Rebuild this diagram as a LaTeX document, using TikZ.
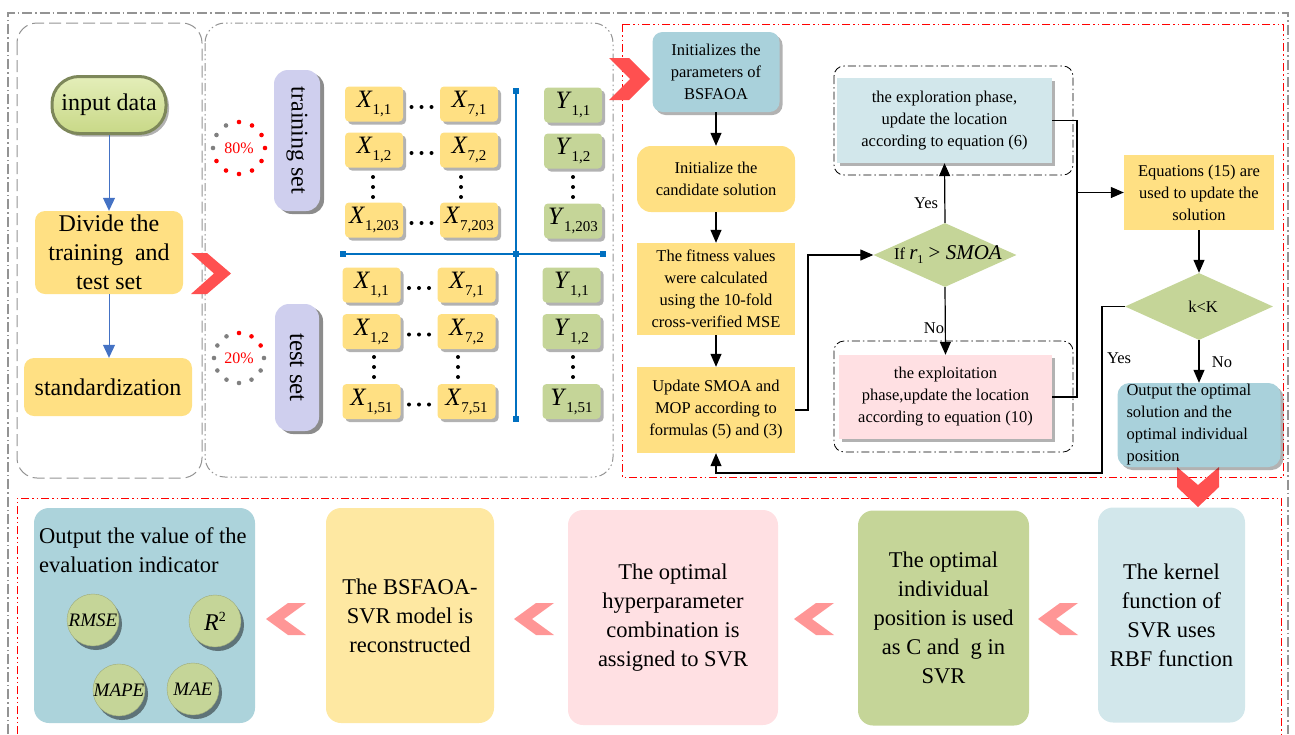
\documentclass[tikz,border=0pt]{standalone}
\usepackage{fontspec}
\setmainfont{Liberation Serif}
\usetikzlibrary{shapes.geometric,shadows,arrows.meta,calc}
\definecolor{cyel}{RGB}{255,224,131}
\definecolor{cyelb}{RGB}{254,232,162}
\definecolor{cblue}{RGB}{169,209,219}
\definecolor{cbluebox}{RGB}{172,211,219}
\definecolor{clblue}{RGB}{210,231,235}
\definecolor{cpink}{RGB}{255,224,227}
\definecolor{cgreen}{RGB}{197,213,152}
\definecolor{clav}{RGB}{207,207,238}
\definecolor{cred}{RGB}{255,80,80}
\definecolor{cpinkchev}{RGB}{255,150,150}
\definecolor{cline}{RGB}{0,112,192}
\definecolor{carrow}{RGB}{68,114,196}
\definecolor{ctrim}{RGB}{125,135,90}
\definecolor{cinlight}{RGB}{228,238,185}
\definecolor{cindark}{RGB}{200,216,135}
\newcommand{\fs}[2]{\fontsize{#1}{#2}\selectfont}
\newcommand{\xlab}[2]{{\fs{25}{25}\textit{#1}\raisebox{-7pt}{\fs{15}{15}#2}}}
\begin{document}
\begin{tikzpicture}[x=1pt,y=-1pt,
  shad/.style={drop shadow={shadow xshift=3pt,shadow yshift=-3pt,fill=black,opacity=0.3}},
  base/.style={inner sep=0pt,align=center,font={\fs{16.5}{22}}},
  arr/.style={line width=1.2pt,-{Triangle[width=11pt,length=13pt]}},
  barr/.style={draw=carrow,line width=1pt,-{Triangle[width=12pt,length=13pt]}},
  xbox/.style={rectangle,rounded corners=4pt,fill=cyel,minimum width=58pt,minimum height=35pt,inner sep=0pt,shad},
  ybox/.style={xbox,fill=cgreen},
  pill/.style={rectangle,rounded corners=14pt,fill=clav,inner sep=0pt,drop shadow={shadow xshift=4pt,shadow yshift=-3pt,fill=black,opacity=0.45}},
  lbox/.style={rectangle,rounded corners=10pt,fill=cyel,inner sep=0pt,align=center,font={\fs{24}{29}}},
  bbox/.style={rectangle,rounded corners=15pt,inner sep=0pt,align=center,font={\fs{22.5}{29}},minimum height=215pt},
  ring/.style={circle,fill=cgreen,draw=cgreen!80!black,line width=0.4pt,minimum size=52pt,inner sep=0pt,drop shadow={shadow xshift=3pt,shadow yshift=-4pt,fill=black,opacity=0.45}},
  lab/.style={inner sep=0pt,font={\fs{16.5}{20}}},
  outerframe/.style={draw=gray!85,line width=1.2pt,dash pattern=on 10pt off 3pt on 1.5pt off 3pt},
  redframe/.style={draw=red,line width=1pt,dash pattern=on 8pt off 3pt on 1.5pt off 3pt on 1.5pt off 3pt},
  grpframe/.style={draw=black,line width=0.8pt,rounded corners=10pt,dash pattern=on 8pt off 3pt on 1.5pt off 3pt}
]
\useasboundingbox (0,0) rectangle (1295,734);
% frames
\draw[outerframe] (8,734) -- (8,13) -- (1288,13) -- (1288,734);
\draw[draw=gray!85,line width=1pt,rounded corners=20pt,dash pattern=on 12pt off 5pt] (17,23) rectangle (202,478);
\draw[draw=gray!85,line width=1pt,rounded corners=20pt,dash pattern=on 8pt off 3pt on 1.5pt off 3pt on 1.5pt off 3pt] (205,23) rectangle (613,477);
\draw[redframe] (622,24) rectangle (1283,477);
\draw[redframe] (17,734) -- (17,498) -- (1281,498) -- (1281,734);

% chevrons
\fill[cred] (191,253) -- (207,253) -- (231,273.5) -- (207,294) -- (191,294) -- (214,273.5) -- cycle;
\fill[cred] (609,58) -- (629,58) -- (650,79) -- (629,100) -- (609,100) -- (630,79) -- cycle;
\fill[cred] (1177,467) -- (1198,485) -- (1219,467) -- (1219,487) -- (1198,507) -- (1177,487) -- cycle;
\foreach \tx in {266,514,794,1038}{
  \fill[cpinkchev] (\tx,619) -- ({\tx+22},603) -- ({\tx+40},603) -- ({\tx+18},619) -- ({\tx+40},635) -- ({\tx+22},635) -- cycle;
}

% left panel
\node[rectangle,rounded corners=27pt,minimum width=114pt,minimum height=57pt,inner sep=0pt,draw=ctrim,line width=3pt,top color=cinlight,bottom color=cindark,font={\fs{24}{24}},shad] (input) at (109,105) {input data};
\node[lbox,minimum width=148pt,minimum height=83pt] (divide) at (109,252.5) {Divide the\\training\ \ and\\test set};
\node[lbox,minimum width=168pt,minimum height=58pt] (stdz) at (108,387) {standardization};
\draw[barr] (input.south) -- (input.south |- divide.north);
\draw[barr] (divide.south) -- (divide.south |- stdz.north);

% percentage rings
\node[inner sep=0pt,text=red,font={\fs{16}{16}}] (p80) at (239,148) {80\%};
\foreach \a in {90,60,...,-150} \fill[red] ($(p80)+(\a:26pt)$) circle (2.3pt);
\foreach \a in {180,150,120} \fill[gray] ($(p80)+(\a:26pt)$) circle (2.3pt);
\node[inner sep=0pt,text=red,font={\fs{16}{16}}] (p20) at (239,358) {20\%};
\foreach \a in {90,60,30} \fill[red] ($(p20)+(\a:25pt)$) circle (2.3pt);
\foreach \a in {0,-30,...,-240} \fill[gray] ($(p20)+(\a:25pt)$) circle (2.3pt);

% pills
\node[pill,minimum width=46pt,minimum height=141pt] (train) at (297,140.5) {\rotatebox{-90}{\fs{24}{24}training set}};
\node[pill,minimum width=44pt,minimum height=127pt] (test) at (297,367.5) {\rotatebox{-90}{\fs{25}{25}test set}};

% data boxes
\foreach \r/\yy/\s in {1/104/1,2/150/2,3/220/203}{
  \node[xbox] (trxa\r) at (374,\yy) {\xlab{X}{1,\s}};
  \node[xbox] (trxb\r) at (469,\yy) {\xlab{X}{7,\s}};
  \node[ybox] (try\r) at (573,{\yy+1}) {\xlab{Y}{1,\s}};
  \foreach \dx in {-10,0,10} \fill ({421.5+\dx},{\yy+3}) circle (2pt);
}
\foreach \r/\yy/\s in {1/285/1,2/331.5/2,3/401.5/51}{
  \node[xbox] (tsxa\r) at (371.5,\yy) {\xlab{X}{1,\s}};
  \node[xbox] (tsxb\r) at (466.5,\yy) {\xlab{X}{7,\s}};
  \node[ybox] (tsy\r) at (571.5,\yy) {\xlab{Y}{1,\s}};
  \foreach \dx in {-10,0,10} \fill ({419+\dx},{\yy+3}) circle (2pt);
}
\foreach \xx in {373,461,573} \foreach \yy in {177,187,197} \fill (\xx,\yy) circle (2pt);
\foreach \xx in {374,458,573} \foreach \yy in {357,367,377} \fill (\xx,\yy) circle (2pt);
% blue cross
\draw[cline,line width=1.4pt] (516,91) -- (516,419);
\draw[cline,line width=1.4pt] (343,254) -- (603,254);
\foreach \p in {(516,91),(516,419),(343,254),(603,254),(516,254)} \fill[cline] \p ++(-2.8,-2.8) rectangle ++(5.6,5.6);

% flowchart
\node[base,rectangle,rounded corners=10pt,fill=cblue,minimum width=127pt,minimum height=80pt,shad] (init) at (716,72) {Initializes the\\parameters of\\BSFAOA};
\node[base,rectangle,rounded corners=14pt,fill=cyel,minimum width=158pt,minimum height=66pt] (cand) at (716,179) {Initialize the\\candidate solution};
\node[base,rectangle,fill=cyel,minimum width=158pt,minimum height=92pt] (fit) at (716,289) {The fitness values\\were calculated\\using the 10-fold\\cross-verified MSE};
\node[base,rectangle,fill=cyel,minimum width=158pt,minimum height=86pt] (upd) at (716,410) {Update SMOA and\\MOP according to\\formulas (5) and (3)};
\draw[arr] (init) -- (cand);
\draw[arr] (cand) -- (fit);
\draw[arr] (fit) -- (upd);

\draw[grpframe] (834,66) rectangle (1073,175);
\draw[grpframe] (834,341) rectangle (1073,452);
\node[base,rectangle,fill=clblue,minimum width=215pt,minimum height=85pt,shad] (explo) at (944.5,120.5) {the exploration phase,\\update the location\\according to equation (6)};
\node[base,rectangle,fill=cpink,minimum width=213pt,minimum height=84pt,shad] (exploit) at (945.5,397) {the exploitation\\phase,update the location\\according to equation (10)};

\node[diamond,fill=cgreen,minimum width=143pt,minimum height=64pt,inner sep=0pt] (d1) at (945,255) {};
\node[inner sep=0pt,font={\fs{16.5}{20}}] (d1t) at (948,255) {If {\fs{21}{21}\textit{r}\raisebox{-4pt}{\fs{12}{12}1} > \textit{SMOA}}};
\node[diamond,fill=cgreen,minimum width=148pt,minimum height=67pt,inner sep=0pt] (d2) at (1199,306.5) {};
\node[inner sep=0pt,font={\fs{16.5}{20}}] (d2t) at (1203,306.5) {k<K};

\node[base,rectangle,fill=cyel,minimum width=150pt,minimum height=75pt] (eq) at (1199,192.5) {Equations (15) are\\used to update the\\solution};
\node[base,rectangle,rounded corners=12pt,fill=cblue,minimum width=163pt,minimum height=84pt,shad,align=left] (out) at (1199,425) {\makebox[145pt][l]{Output the optimal}\\solution and the\\optimal individual\\position};

\coordinate (jx) at (1077,192.5);
\coordinate (ju) at (808,255);
\coordinate (jy) at (1102,473);
\draw[arr] (upd.east) -| (ju) -- (d1.west);
\draw[arr] (d1.north) -- (explo.south);
\draw[arr] (d1.south) -- (exploit.north);
\draw[line width=1.2pt] (explo.east) -| (jx) |- (exploit.east);
\draw[arr] (jx) -- (eq.west);
\draw[arr] (eq.south) -- (d2.north);
\draw[arr] (d2.south) -- (out.north);
\draw[arr] (d2.west) -| (jy) -| (upd.south);
\node[lab] (yes1) at (926,203) {Yes};
\node[lab] (no1) at (934,328) {No};
\node[lab] (yes2) at (1119,358) {Yes};
\node[lab] (no2) at (1222,362) {No};

% bottom row
\node[bbox,fill=cbluebox,minimum width=221pt] (b1) at (144.5,615.5) {};
\node[inner sep=0pt,anchor=north west,align=left,font={\fs{22.5}{29}}] (b1t) at (39,527) {Output the value of the\\evaluation indicator};
\node[ring,font={\fs{19}{19}\itshape}] (rmse) at (93,620) {RMSE};
\node[ring,font={\fs{24}{24}}] (r2) at (215,621) {\textit{R}\raisebox{9pt}{\fs{14}{14}2}};
\node[ring,font={\fs{19}{19}\itshape}] (mape) at (119,690) {MAPE};
\node[ring,font={\fs{19}{19}\itshape}] (mae) at (193,689) {MAE};
\node[bbox,fill=cyelb,minimum width=168pt] (b2) at (410,615.5) {The BSFAOA-\\SVR model is\\reconstructed};
\node[bbox,fill=cpink,minimum width=210pt] (b3) at (673,617.5) {The optimal\\hyperparameter\\combination is\\assigned to SVR};
\node[bbox,fill=cgreen,minimum width=171pt] (b4) at (943.5,618) {The optimal\\individual\\position is used\\as C and\ \ g in\\SVR};
\node[bbox,fill=clblue,minimum width=147pt] (b5) at (1171.5,615) {The kernel\\function of\\SVR uses\\RBF function};
\end{tikzpicture}
\end{document}
